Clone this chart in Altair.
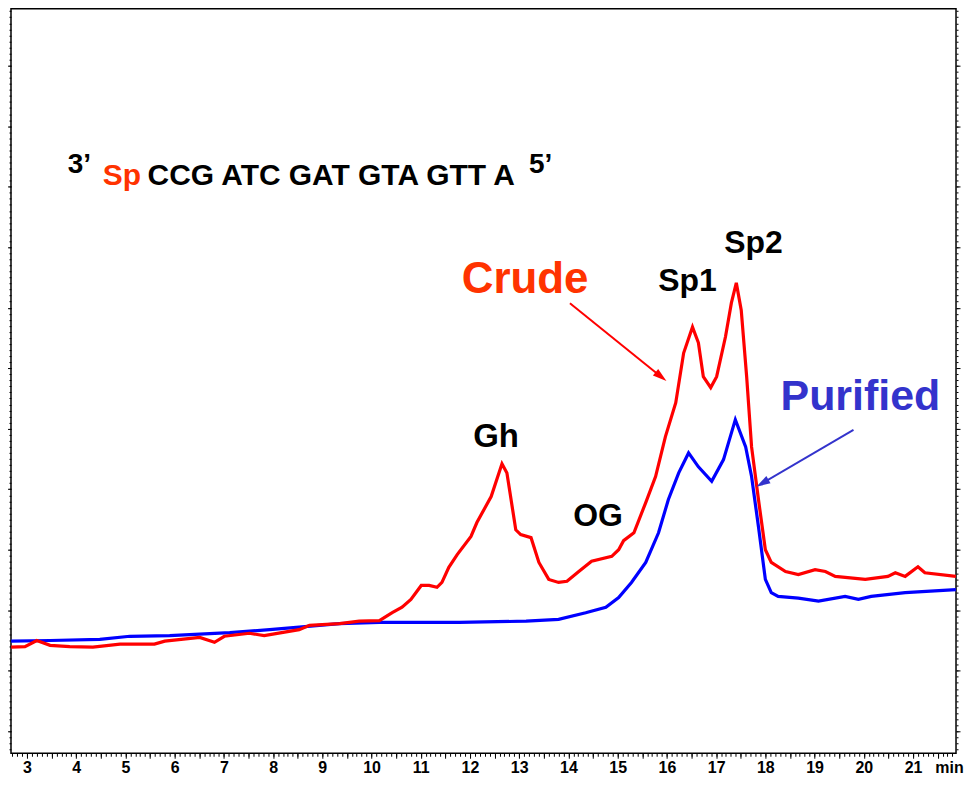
import altair as alt
import pandas as pd

# ---------------- data ----------------
crude_time = [2.68, 2.96, 3.20, 3.47, 3.87, 4.34, 4.89, 5.59, 5.80, 6.51, 6.81, 7.01,
              7.52, 7.82, 8.53, 8.74, 9.35, 9.75, 10.16, 10.42, 10.62, 10.80, 11.01,
              11.17, 11.33, 11.43, 11.57, 11.74, 12.02, 12.14, 12.43, 12.65, 12.75,
              12.93, 13.03, 13.24, 13.40, 13.60, 13.80, 13.97, 14.21, 14.47, 14.88,
              15.02, 15.12, 15.33, 15.57, 15.77, 15.97, 16.18, 16.34, 16.52, 16.64,
              16.74, 16.89, 17.01, 17.19, 17.31, 17.41, 17.51, 17.62, 17.72, 17.86,
              18.00, 18.12, 18.41, 18.67, 19.01, 19.22, 19.42, 20.03, 20.49, 20.64,
              20.84, 21.10, 21.24, 21.87]
crude_signal = [13.9, 14.0, 15.0, 14.2, 14.0, 13.9, 14.4, 14.4, 14.9, 15.5, 14.7, 15.7,
                16.2, 15.8, 16.8, 17.5, 17.8, 18.2, 18.3, 19.6, 20.5, 21.8, 24.1,
                24.1, 23.8, 24.6, 27.1, 29.2, 32.2, 34.5, 38.8, 44.2, 42.7,
                33.3, 32.5, 32.0, 27.9, 25.1, 24.6, 24.8, 26.4, 28.1, 28.9,
                30.0, 31.5, 32.8, 37.8, 42.1, 48.7, 54.3, 62.5, 66.8, 64.2,
                58.6, 56.8, 58.6, 65.2, 70.8, 74.1, 69.6, 58.6, 47.0, 38.3,
                30.0, 27.9, 26.4, 25.9, 26.7, 26.4, 25.6, 25.1, 25.6, 26.2,
                25.6, 27.2, 26.2, 25.6]

purified_time = [2.68, 3.47, 4.48, 5.09, 5.90, 7.12, 7.93, 8.53, 9.35, 10.16, 11.78,
                 13.14, 13.80, 14.35, 14.76, 15.02, 15.28, 15.57, 15.83, 16.03, 16.24,
                 16.44, 16.64, 16.91, 17.15, 17.39, 17.60, 17.72, 17.86, 18.00, 18.12,
                 18.26, 18.67, 19.08, 19.62, 19.89, 20.15, 20.84, 21.87]
purified_signal = [14.9, 15.0, 15.2, 15.7, 15.8, 16.3, 16.8, 17.2, 17.8, 18.0, 18.0,
                   18.2, 18.5, 19.6, 20.5, 22.1, 24.6, 27.9, 32.8, 38.3, 42.7,
                   46.0, 43.7, 41.3, 44.9, 51.5, 47.0, 42.1, 33.8, 25.1, 22.9,
                   22.3, 22.0, 21.5, 22.3, 21.8, 22.3, 22.9, 23.4]

x_tick_values = list(range(3, 22))
x_unit_label = "min"

# ---------------- annotations ----------------
seq_texts = ["3’", "Sp", "CCG ATC GAT GTA GTT A", "5’"]
seq_t = [3.83, 4.54, 5.45, 13.20]
seq_v = [92.3, 90.2, 90.2, 92.3]
seq_colors = ["black", "#ff3300", "black", "black"]
seq_sizes = [28, 30, 30, 28]

lab_texts = ["Gh", "OG", "Sp1", "Sp2", "Crude", "Purified"]
lab_t = [12.53, 14.60, 16.42, 17.76, 13.12, 19.93]
lab_v = [47.0, 34.0, 72.7, 79.0, 72.4, 53.1]
lab_colors = ["black", "black", "black", "black", "#ff3300", "#3333cc"]
lab_sizes = [33, 32, 32, 32, 44, 43]

arrow_t = [14.03, 19.79]
arrow_v = [70.75, 49.8]
arrow_t2 = [15.88, 17.94]
arrow_v2 = [58.6, 41.0]
arrow_angle = [129, 240]
arrow_colors = ["#ff0000", "#3333cc"]

# ---------------- scales / axes ----------------
X_DOMAIN = [2.676, 21.873]
Y_DOMAIN = [-3.63, 119.4]
xs = alt.Scale(domain=X_DOMAIN, nice=False, zero=False)
ys = alt.Scale(domain=Y_DOMAIN, nice=False, zero=False)
FONT = "Liberation Sans"


def tick_axis(orient, values, size):
    return alt.Axis(orient=orient, values=values, tickSize=size, labels=False,
                    domain=False, grid=False, ticks=True, tickColor="black",
                    tickWidth=1, title=None)


x_main_axis = alt.Axis(orient="bottom", values=x_tick_values + [21.73], ticks=False,
                       tickSize=0, domain=False, grid=False, title=None,
                       labelExpr=f"datum.value > 21.5 ? '{x_unit_label}' : datum.label",
                       labelFont=FONT, labelFontSize=16, labelFontWeight="bold",
                       labelColor="black", labelPadding=6, labelOverlap=False,
                       labelFlush=False)
x_minor_axis = tick_axis("bottom", [round(2.7 + 0.1 * i, 1) for i in range(192)], 3)
x_half_axis = tick_axis("bottom", [3 + 0.5 * i for i in range(38)], 5)
y_left_major = tick_axis("left", list(range(0, 120, 10)), 4)
y_left_minor = tick_axis("left", list(range(-3, 120)), 2)
y_right_major = tick_axis("right", list(range(0, 120, 10)), 4)
y_right_minor = tick_axis("right", list(range(-3, 120)), 2)

df_crude = pd.DataFrame({"t": crude_time, "v": crude_signal})
df_pur = pd.DataFrame({"t": purified_time, "v": purified_signal})
df_seq = pd.DataFrame({"text": seq_texts, "t": seq_t, "v": seq_v,
                       "color": seq_colors, "size": seq_sizes})
df_lab = pd.DataFrame({"text": lab_texts, "t": lab_t, "v": lab_v,
                       "color": lab_colors, "size": lab_sizes})
df_arrow = pd.DataFrame({"t": arrow_t, "v": arrow_v, "t2": arrow_t2, "v2": arrow_v2,
                         "angle": arrow_angle, "color": arrow_colors})

blue = alt.Chart(df_pur).mark_line(color="#0000ff", strokeWidth=3.2).encode(
    x=alt.X("t:Q", scale=xs, axis=x_minor_axis),
    y=alt.Y("v:Q", scale=ys, axis=y_left_minor),
)
red = alt.Chart(df_crude).mark_line(color="#ff0000", strokeWidth=3.2).encode(
    x=alt.X("t:Q", scale=xs, axis=x_main_axis),
    y=alt.Y("v:Q", scale=ys, axis=y_left_major),
)
seq = alt.Chart(df_seq).mark_text(align="left", baseline="alphabetic", font=FONT,
                                  fontWeight="bold").encode(
    x=alt.X("t:Q", scale=xs, axis=x_half_axis),
    y=alt.Y("v:Q", scale=ys, axis=y_right_major),
    text="text:N",
    color=alt.Color("color:N", scale=None),
    size=alt.Size("size:Q", scale=None),
)
labels = alt.Chart(df_lab).mark_text(align="center", baseline="alphabetic", font=FONT,
                                     fontWeight="bold").encode(
    x=alt.X("t:Q", scale=xs, axis=None),
    y=alt.Y("v:Q", scale=ys, axis=y_right_minor),
    text="text:N",
    color=alt.Color("color:N", scale=None),
    size=alt.Size("size:Q", scale=None),
)
arrow_lines = alt.Chart(df_arrow).mark_rule(strokeWidth=2).encode(
    x=alt.X("t:Q", scale=xs, axis=None),
    y=alt.Y("v:Q", scale=ys, axis=None),
    x2="t2:Q", y2="v2:Q",
    color=alt.Color("color:N", scale=None),
)
arrow_heads = alt.Chart(df_arrow).mark_point(
    shape="M0,-1L0.6,1L-0.6,1Z", filled=True, size=196, opacity=1, strokeWidth=0
).encode(
    x=alt.X("t2:Q", scale=xs, axis=None),
    y=alt.Y("v2:Q", scale=ys, axis=None),
    angle=alt.Angle("angle:Q", scale=None),
    color=alt.Color("color:N", scale=None),
)

chart = alt.layer(blue, red, seq, labels, arrow_lines, arrow_heads).resolve_axis(
    x="independent", y="independent"
).properties(
    width=947, height=746,
    padding={"left": 3, "top": 0, "right": 8, "bottom": 22},
    autosize=alt.AutoSizeParams(type="none"),
    background="white",
).configure_view(stroke="black", strokeWidth=1.5)

chart.save("out.html", embed_options={"renderer": "svg", "actions": False})
